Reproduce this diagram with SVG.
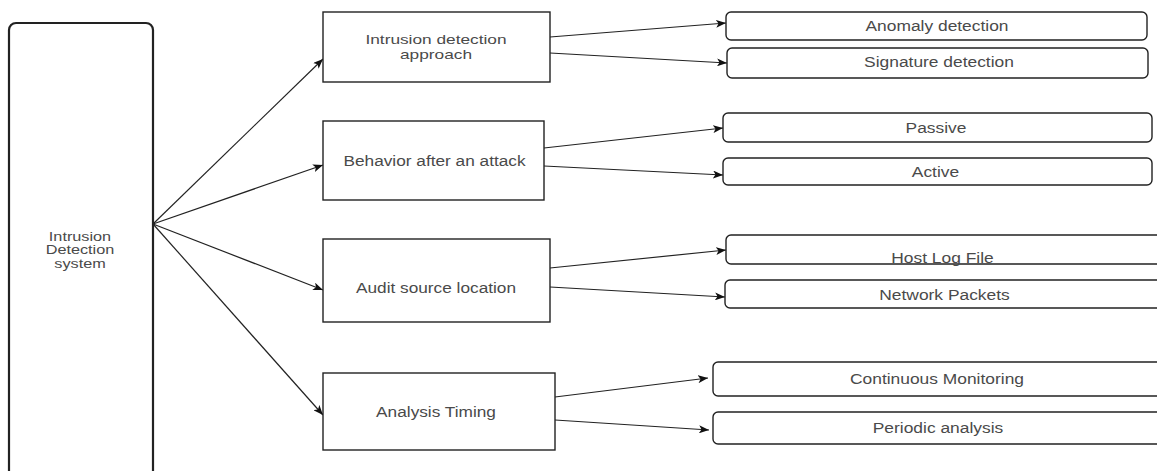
<svg xmlns="http://www.w3.org/2000/svg" width="1157" height="471" viewBox="0 0 1157 471">
<style>
.bg{fill:#fff}
.root{fill:#fff;stroke:#222;stroke-width:2.2}
.mid{fill:#fff;stroke:#222;stroke-width:1.4}
.leaf{fill:#fff;stroke:#222;stroke-width:1.4}
text{font-family:"Liberation Sans",Arial,sans-serif;fill:#4a4a4a;text-anchor:middle}
.t13{font-size:13px}
.t15{font-size:15px}
.t14{font-size:14.5px}
.edge{fill:none;stroke:#222;stroke-width:1.2;marker-end:url(#ah)}
</style>
<defs>
<marker id="ah" viewBox="0 0 10 8" refX="10" refY="4" markerWidth="10" markerHeight="8" markerUnits="userSpaceOnUse" orient="auto">
<path d="M0,0 L10,4 L0,8 L2.5,4 Z" fill="#111"/>
</marker>
</defs>
<rect class="bg" x="0" y="0" width="1157" height="471"/>

<g id="connectors">
<line class="edge" x1="153" y1="224" x2="323" y2="59"/>
<line class="edge" x1="153" y1="224" x2="323" y2="165"/>
<line class="edge" x1="153" y1="224" x2="323" y2="290"/>
<line class="edge" x1="153" y1="224" x2="323" y2="415"/>
<line class="edge" x1="550" y1="37" x2="726" y2="23"/>
<line class="edge" x1="550" y1="53" x2="727" y2="63"/>
<line class="edge" x1="544" y1="148" x2="723" y2="128"/>
<line class="edge" x1="544" y1="166" x2="723" y2="175"/>
<line class="edge" x1="550" y1="268" x2="726" y2="250"/>
<line class="edge" x1="550" y1="287" x2="725" y2="297"/>
<line class="edge" x1="555" y1="397" x2="708" y2="378"/>
<line class="edge" x1="555" y1="420" x2="709" y2="430"/>
</g>

<g id="node-root">
<rect class="root" x="9" y="23" width="144" height="480" rx="7"/>
<g transform="translate(80,0) scale(1.25,1)">
<text class="t13" x="0" y="241">Intrusion</text>
<text class="t13" x="0" y="254.5">Detection</text>
<text class="t13" x="0" y="268">system</text>
</g>
</g>

<g id="node-approach">
<rect class="mid" x="323" y="12" width="227" height="70"/>
<g transform="translate(436,0) scale(1.33,1)">
<text class="t13" x="0" y="44">Intrusion detection</text>
<text class="t13" x="0" y="59">approach</text>
</g>
</g>

<g id="node-behavior">
<rect class="mid" x="323" y="121" width="221" height="79"/>
<g transform="translate(434.5,0) scale(1.15,1)">
<text class="t15" x="0" y="166">Behavior after an attack</text>
</g>
</g>

<g id="node-audit">
<rect class="mid" x="323" y="239" width="227" height="83"/>
<g transform="translate(436,0) scale(1.15,1)">
<text class="t15" x="0" y="293">Audit source location</text>
</g>
</g>

<g id="node-timing">
<rect class="mid" x="323" y="373" width="232" height="77"/>
<g transform="translate(436,0) scale(1.15,1)">
<text class="t15" x="0" y="417">Analysis Timing</text>
</g>
</g>

<g id="node-anomaly">
<rect class="leaf" x="726" y="12" width="421" height="28" rx="5"/>
<g transform="translate(937,0) scale(1.2,1)"><text class="t14" x="0" y="31">Anomaly detection</text></g>
</g>
<g id="node-signature">
<rect class="leaf" x="727" y="48" width="421" height="30" rx="5"/>
<g transform="translate(939,0) scale(1.2,1)"><text class="t14" x="0" y="67">Signature detection</text></g>
</g>
<g id="node-passive">
<rect class="leaf" x="723" y="113" width="429" height="29" rx="5"/>
<g transform="translate(936,0) scale(1.2,1)"><text class="t14" x="0" y="133">Passive</text></g>
</g>
<g id="node-active">
<rect class="leaf" x="723" y="158" width="429" height="27" rx="5"/>
<g transform="translate(935.5,0) scale(1.2,1)"><text class="t14" x="0" y="177">Active</text></g>
</g>
<g id="node-host">
<rect class="leaf" x="726" y="235" width="440" height="29" rx="5"/>
<g transform="translate(942.5,0) scale(1.2,1)"><text class="t14" x="0" y="263">Host Log File</text></g>
</g>
<g id="node-network">
<rect class="leaf" x="725" y="280" width="440" height="28" rx="5"/>
<g transform="translate(944.5,0) scale(1.2,1)"><text class="t14" x="0" y="300">Network Packets</text></g>
</g>
<g id="node-continuous">
<rect class="leaf" x="713" y="362" width="452" height="34" rx="5"/>
<g transform="translate(937,0) scale(1.2,1)"><text class="t14" x="0" y="384">Continuous Monitoring</text></g>
</g>
<g id="node-periodic">
<rect class="leaf" x="713" y="412" width="452" height="32" rx="5"/>
<g transform="translate(938,0) scale(1.2,1)"><text class="t14" x="0" y="433">Periodic analysis</text></g>
</g>
</svg>
